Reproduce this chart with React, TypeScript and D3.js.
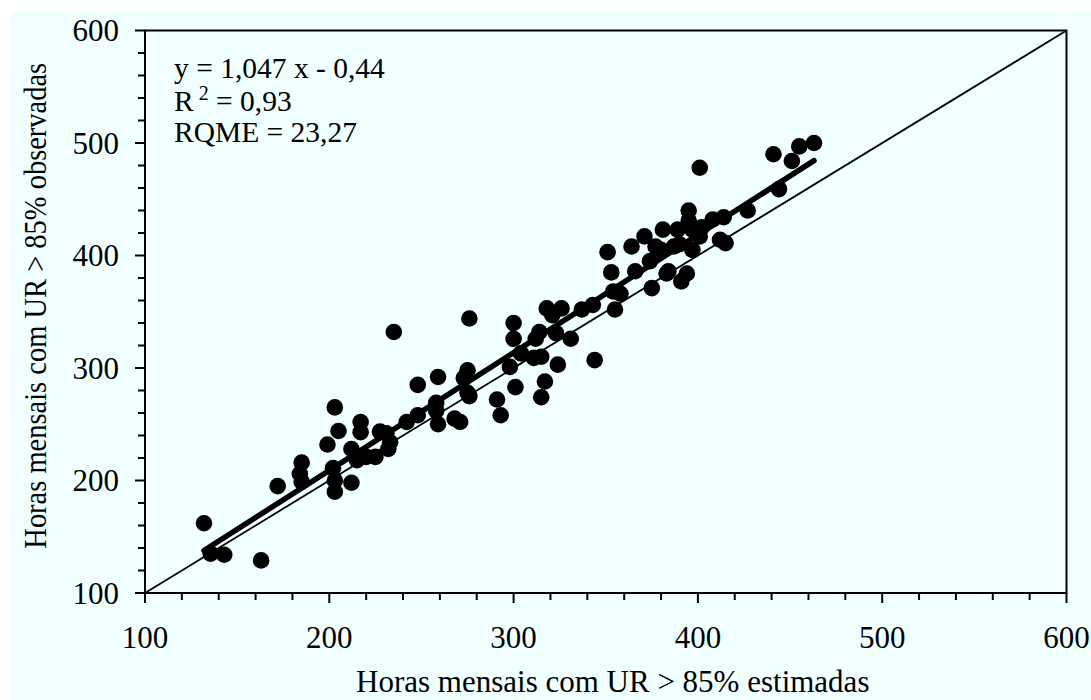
import React from "react";
import * as d3 from "d3";

// Estimated (x) and observed (y) monthly hours with RH > 85%
const estimated: number[] = [
  132, 135.6, 143, 163, 172, 185, 184, 185, 199, 203, 205, 202, 203, 203, 212, 217, 217, 212, 215, 220,
  225, 227.5, 231, 233, 232, 235, 242, 248, 248, 259, 258, 259, 258, 271, 275, 273, 275, 276, 276, 268,
  291, 293, 298, 300, 300, 301, 304, 311, 315, 312, 314, 317, 315, 318, 321, 326, 323, 324, 331, 337,
  343, 344, 351, 353, 354, 355, 358, 364, 366, 371, 374, 375, 377, 381, 383, 384, 387, 389, 391, 394,
  395, 395, 397, 397, 401, 401, 408, 412, 414, 415, 427, 441, 444, 451, 455, 463, 390, 402, 380,
];
const observed: number[] = [
  162, 135, 134, 129, 195, 216, 206, 199, 232, 265, 244, 211, 190, 200, 198, 252, 243, 228, 218, 221,
  221, 243.5, 242, 234, 228, 332, 252, 285, 258, 292, 269, 250, 262, 252, 298, 291, 278, 344, 275, 255,
  272, 258, 301, 340, 326, 283, 313, 309, 310, 326, 332, 288, 274, 353, 347, 353, 331, 303, 326, 352,
  356, 307, 403, 385, 368, 352, 366, 408, 386, 417, 395, 371, 408, 423, 384, 386, 408, 423, 377, 384,
  440, 431, 423, 405, 417, 478, 432, 414, 434, 411, 440, 490, 459, 484, 497, 500, 410, 425, 405,
];

const slope = 1.047;
const intercept = -0.44;
const xTicks: number[] = [100, 200, 300, 400, 500, 600];
const yTicks: number[] = [100, 200, 300, 400, 500, 600];
const xTitle = "Horas mensais com UR > 85% estimadas";
const yTitle = "Horas mensais com UR > 85% observadas";
const eqLine = "y = 1,047 x - 0,44";
const r2Value = " = 0,93";
const rqmeLine = "RQME = 23,27";

const W = 1091;
const H = 700;
const FONT = "'Liberation Serif', 'Times New Roman', serif";
const FS = 31;
const FA = 29.5;

export default function App() {
  const x = d3.scaleLinear().domain([100, 600]).range([145, 1066.5]);
  const y = d3.scaleLinear().domain([100, 600]).range([593, 30.5]);
  const minor = d3.range(100, 601, 20);
  const [x0, x1] = d3.extent(estimated) as [number, number];
  const pts = estimated.map((v, i) => [v, observed[i]] as [number, number]);

  const T = (px: number, py: number, content: React.ReactNode, anchor: string, key?: string, fs: number = FS) => (
    <text key={key} x={px} y={py} textAnchor={anchor} fontFamily={FONT} fontSize={fs} fill="#000">
      {content}
    </text>
  );

  return (
    <svg width={W} height={H} style={{ position: "absolute", left: 0, top: 0 }}>
      <rect x={10} y={11} width={W - 10} height={H - 11} fill="#F0FFFF" />
      {/* 1:1 line */}
      <line x1={x(100)} y1={y(100)} x2={x(600)} y2={y(600)} stroke="#000" strokeWidth={1.8} />
      {/* regression line */}
      <line
        x1={x(x0)}
        y1={y(slope * x0 + intercept)}
        x2={x(x1)}
        y2={y(slope * x1 + intercept)}
        stroke="#000"
        strokeWidth={5.5}
        strokeLinecap="round"
      />
      {pts.map((p, i) => (
        <circle key={i} cx={x(p[0])} cy={y(p[1])} r={8.3} fill="#000" />
      ))}
      {/* frame */}
      <rect x={x(100)} y={y(600)} width={x(600) - x(100)} height={y(100) - y(600)} fill="none" stroke="#000" strokeWidth={2} />
      {/* ticks */}
      {minor.map((v) => (
        <line key={"xm" + v} x1={x(v)} x2={x(v)} y1={y(100)} y2={y(100) + (v % 100 === 0 ? 10 : 7)} stroke="#000" strokeWidth={2} />
      ))}
      {minor.map((v) => (
        <line key={"ym" + v} x1={x(100)} x2={x(100) - (v % 100 === 0 ? 10 : 7)} y1={y(v)} y2={y(v)} stroke="#000" strokeWidth={2} />
      ))}
      {xTicks.map((v) => T(x(v), 648, String(v), "middle", "xt" + v))}
      {yTicks.map((v) => T(119, y(v) + 10.5, String(v), "end", "yt" + v))}
      {T((x(100) + x(600)) / 2 + 7, 692, xTitle, "middle", "xtitle")}
      <text
        transform={`translate(46,${(y(100) + y(600)) / 2 - 6}) scale(1.1,1) rotate(-90)`}
        textAnchor="middle"
        fontFamily={FONT}
        fontSize={28.5}
        fill="#000"
      >
        {yTitle}
      </text>
      {T(174, 78, eqLine, "start", "eq", FA)}
      {T(174, 111, (
        <>
          <tspan>R</tspan>
          <tspan fontSize={FA * 0.68} dy={-11}>{" 2"}</tspan>
          <tspan dy={11}>{r2Value}</tspan>
        </>
      ), "start", "r2", FA)}
      {T(174, 142, rqmeLine, "start", "rq", FA)}
    </svg>
  );
}
